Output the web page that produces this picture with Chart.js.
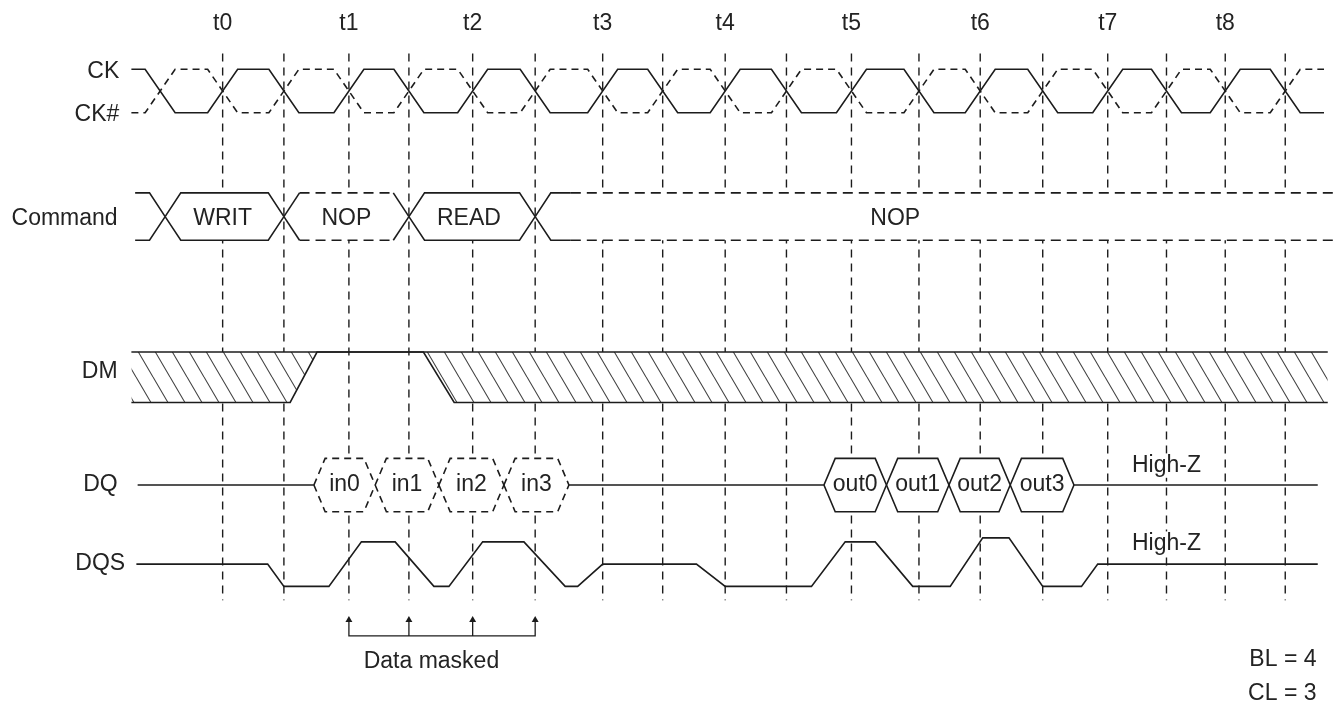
<!DOCTYPE html>
<html lang="en">
<head>
<meta charset="UTF-8">
<title>DDR write then read timing</title>
<script src="https://cdn.jsdelivr.net/npm/chart.js@4.4.1/dist/chart.umd.min.js"></script>
<style>
  html, body { margin: 0; padding: 0; background: #fff; }
  #wrap { width: 1340px; height: 711px; position: relative; }
</style>
</head>
<body>
<div id="wrap"><canvas id="timing"></canvas></div>
<script>
// ---- data: x is in clock cycles, t0 = 0 ----
const tickLabels = ['t0', 't1', 't2', 't3', 't4', 't5', 't6', 't7', 't8'];
const tickAt = [0, 1.01, 2.0, 3.04, 4.02, 5.03, 6.06, 7.08, 8.02];

// every CK / CK# crossing, first one is a falling CK edge
const ckEdges = [-0.5, 0, 0.49, 1.01, 1.49, 2.0, 2.5, 3.04, 3.52, 4.02, 4.51, 5.03, 5.57, 6.06, 6.56, 7.08, 7.55, 8.02, 8.5];
const ckSpan = [-0.73, 8.81];

const cmdEdges = [-0.46, 0.49, 1.49, 2.5];
const cmdLabels = ['', 'WRIT', 'NOP', 'READ', 'NOP'];
const cmdLabelAt = [null, 0.0, 0.99, 1.97, 5.38];
const cmdDashed = [false, false, true, false, true];
const cmdSpan = [-0.70, 9.3];

const dmTimes = [-0.73, 0.54, 0.755, 1.606, 1.852, 8.84];
const dmLow = [-1, -1, 1, 1, -1, -1];   // lower edge of the masked band (upper edge stays at 1)

const dqSpan = [-0.68, 8.76];
const dqInEdges = [0.73, 1.22, 1.73, 2.25, 2.77];
const dqInLabels = ['in0', 'in1', 'in2', 'in3'];
const dqOutEdges = [4.81, 5.31, 5.81, 6.30, 6.81];
const dqOutLabels = ['out0', 'out1', 'out2', 'out3'];

const dqsTimes = [-0.69, 0.36, 0.49, 0.85, 1.11, 1.38, 1.69, 1.81, 2.08, 2.41, 2.74, 2.84, 3.04,
                  3.79, 4.02, 4.71, 4.98, 5.22, 5.52, 5.82, 6.08, 6.29, 6.56, 6.87, 7.0, 8.76];
const dqsLevels = [0, 0, -1, -1, 1, 1, -1, -1, 1, 1, -1, -1, 0,
                   0, -1, -1, 1, 1, -1, -1, 1.18, 1.18, -1, -1, 0, 0];

const maskedAt = [1.01, 1.49, 2.0, 2.5];

// ---- layout (y units run top to bottom over the 711 high canvas) ----
const X_MIN = -1.749, X_MAX = 8.906;
const lanes = {
  ck:  { mid: 88,    half: 22 },
  cmd: { mid: 215,   half: 24 },
  dm:  { mid: 377.5, half: 25.5 },
  dq:  { mid: 486.5, half: 27 },
  dqs: { mid: 566.5, half: 22.5 }
};
const SLEW = 0.12;        // half width of a clock transition (cycles)
const BUS_SLEW = 0.125;   // half width of a bus crossing
const HEX = 0.09;         // nose of a data eye
const CMD_LEAD = 0.16;    // solid stub before the trailing dashed NOP
const GUIDE = [50, 603];
const BRACKET = { tip: 621, bar: 639 };
const INK = '#1c1c1c';
const FONT = '23px "Liberation Sans", Arial, sans-serif';

const Y = (lane, lvl) => lanes[lane].mid - lvl * lanes[lane].half;
const P = (x, lane, lvl) => ({ x: x, y: Y(lane, lvl) });
const GAP = { x: 0, y: null };

const ctx = document.getElementById('timing').getContext('2d');

function hatchPattern() {
  const w = 17, h = 29;
  const c = document.createElement('canvas');
  c.width = w; c.height = h;
  const g = c.getContext('2d');
  g.fillStyle = '#fff';
  g.fillRect(0, 0, w, h);
  g.strokeStyle = '#444';
  g.lineWidth = 1.1;
  g.beginPath();
  [-w, 0, w].forEach(dx => { g.moveTo(dx, 0); g.lineTo(dx + w, h); });
  g.stroke();
  return ctx.createPattern(c, 'repeat');
}

const datasets = [];
function addLine(points, extra) {
  datasets.push(Object.assign({
    data: points, borderColor: INK, borderWidth: 1.6, pointRadius: 0,
    fill: false, tension: 0, spanGaps: false, order: 0
  }, extra || {}));
}
// two edges of one band; the lower one carries the fill so both strokes stay on top of it
function addBand(upper, lower, bg, extra) {
  addLine(upper, extra);
  addLine(lower, Object.assign({}, extra || {}, bg ? { fill: '-1', backgroundColor: bg } : {}));
}

// dashed guide lines on every clock crossing from t0 on
const guides = [];
ckEdges.filter(e => e >= 0).forEach(e => {
  guides.push({ x: e, y: GUIDE[0] }, { x: e, y: GUIDE[1] }, GAP);
});
addLine(guides, { borderDash: [8, 6], borderWidth: 1.4, order: 5 });

// CK and CK#
function clockPoints(startLevel) {
  const pts = [P(ckSpan[0], 'ck', startLevel)];
  let lvl = startLevel;
  ckEdges.forEach(e => {
    pts.push(P(e - SLEW, 'ck', lvl));
    lvl = -lvl;
    pts.push(P(e + SLEW, 'ck', lvl));
  });
  pts.push(P(ckSpan[1], 'ck', lvl));
  return pts;
}
addLine(clockPoints(1));
addLine(clockPoints(-1), { borderDash: [7, 5] });

// Command bus, one band per value
const cmdBounds = [cmdSpan[0]].concat(cmdEdges, [cmdSpan[1]]);
for (let i = 0; i < cmdBounds.length - 1; i++) {
  const a = cmdBounds[i], b = cmdBounds[i + 1], s = BUS_SLEW;
  const first = i === 0, last = i === cmdBounds.length - 2;
  let xs, shape;
  if (first) { xs = [a, b - s, b]; shape = [1, 1, 0]; }
  else if (last) { xs = [a, a + s, a + s + CMD_LEAD, b]; shape = [0, 1, 1, 1]; }
  else { xs = [a, a + s, b - s, b]; shape = [0, 1, 1, 0]; }
  const dashFrom = a + s + (last ? CMD_LEAD : 0) - 1e-6;
  const dashed = cmdDashed[i];
  const style = {
    segment: {
      borderDash: c => (dashed && c.p0.parsed.y === c.p1.parsed.y &&
        c.p0.parsed.x >= dashFrom) ? [10, 6] : undefined
    }
  };
  addBand(xs.map((x, k) => P(x, 'cmd', shape[k])),
          xs.map((x, k) => P(x, 'cmd', -shape[k])),
          first ? null : '#fff', style);
}

// DM: masked band hatched between its upper and lower edge
addBand(dmTimes.map(t => P(t, 'dm', 1)),
        dmTimes.map((t, i) => P(t, 'dm', dmLow[i])),
        hatchPattern());

// DQ idle line and data eyes
addLine([
  P(dqSpan[0], 'dq', 0), P(dqInEdges[0], 'dq', 0), GAP,
  P(dqInEdges[dqInEdges.length - 1], 'dq', 0), P(dqOutEdges[0], 'dq', 0), GAP,
  P(dqOutEdges[dqOutEdges.length - 1], 'dq', 0), P(dqSpan[1], 'dq', 0)
]);
function eyes(edges, dash) {
  for (let i = 0; i < edges.length - 1; i++) {
    const a = edges[i], b = edges[i + 1];
    const xs = [a, a + HEX, b - HEX, b], shape = [0, 1, 1, 0];
    addBand(xs.map((x, k) => P(x, 'dq', shape[k])),
            xs.map((x, k) => P(x, 'dq', -shape[k])),
            '#fff', { borderDash: dash });
  }
}
eyes(dqInEdges, [7, 5]);
eyes(dqOutEdges, []);

// DQS
addLine(dqsTimes.map((t, i) => P(t, 'dqs', dqsLevels[i])));

// "Data masked" bracket with arrows
const m0 = maskedAt[0], mN = maskedAt[maskedAt.length - 1];
const bracket = [{ x: m0, y: BRACKET.tip }, { x: m0, y: BRACKET.bar }, { x: mN, y: BRACKET.bar }, { x: mN, y: BRACKET.tip }, GAP];
maskedAt.slice(1, -1).forEach(m => bracket.push({ x: m, y: BRACKET.bar }, { x: m, y: BRACKET.tip }, GAP));
addLine(bracket, { borderWidth: 1.3 });
addLine(maskedAt.map(m => ({ x: m, y: BRACKET.tip + 2 })), {
  showLine: false, pointRadius: 4, pointStyle: 'triangle',
  pointBackgroundColor: INK, pointBorderColor: INK, pointBorderWidth: 0
});

// ---- text ----
const textLayer = {
  id: 'textLayer',
  afterDatasetsDraw(chart) {
    const g = chart.ctx, xs = chart.scales.x, ys = chart.scales.y;
    g.save();
    g.font = FONT;
    g.fillStyle = '#232323';
    g.textBaseline = 'middle';
    const put = (txt, xv, yv, align, bg) => {
      const px = xs.getPixelForValue(xv), py = ys.getPixelForValue(yv);
      g.textAlign = align || 'center';
      if (bg) {
        const w = g.measureText(txt).width;
        const left = align === 'right' ? px - w : align === 'left' ? px : px - w / 2;
        g.fillStyle = '#fff';
        g.fillRect(left - 2, py - 12, w + 4, 24);
        g.fillStyle = '#232323';
      }
      g.fillText(txt, px, py);
    };
    tickLabels.forEach((t, i) => put(t, tickAt[i], 20));
    put('CK', -0.827, Y('ck', 0.87), 'right');
    put('CK#', -0.827, Y('ck', -1.1), 'right');
    put('Command', -0.84, Y('cmd', -0.1), 'right');
    put('DM', -0.84, 372, 'right');
    put('DQ', -0.84, Y('dq', 0), 'right');
    put('DQS', -0.78, Y('dqs', 0), 'right');
    cmdLabels.forEach((t, i) => { if (t) put(t, cmdLabelAt[i], Y('cmd', -0.08)); });
    dqInLabels.forEach((t, i) => put(t, (dqInEdges[i] + dqInEdges[i + 1]) / 2, Y('dq', 0)));
    dqOutLabels.forEach((t, i) => put(t, (dqOutEdges[i] + dqOutEdges[i + 1]) / 2, Y('dq', 0)));
    put('High-Z', 7.55, Y('dq', 0.72), 'center', true);
    put('High-Z', 7.55, Y('dqs', 0.93), 'center', true);
    put('Data masked', 1.67, 665);
    put('BL = 4', 8.75, 663, 'right');
    put('CL = 3', 8.75, 697, 'right');
    g.restore();
  }
};

new Chart(ctx, {
  type: 'line',
  data: { datasets: datasets },
  options: {
    responsive: true,
    maintainAspectRatio: false,
    animation: false,
    layout: { padding: 0 },
    scales: {
      x: { type: 'linear', min: X_MIN, max: X_MAX, display: false },
      y: { type: 'linear', min: 0, max: 711, reverse: true, display: false }
    },
    plugins: { legend: { display: false }, tooltip: { enabled: false } }
  },
  plugins: [textLayer]
});
</script>
</body>
</html>
